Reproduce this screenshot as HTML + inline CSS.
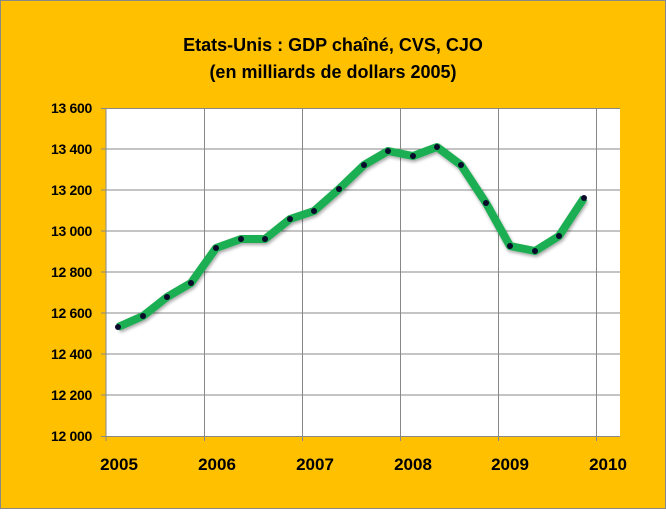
<!DOCTYPE html>
<html><head><meta charset="utf-8"><style>
body{margin:0;width:666px;height:510px;overflow:hidden;background:#fff}
</style></head><body>
<svg width="666" height="510" xmlns="http://www.w3.org/2000/svg" font-family="Liberation Sans, Arial, sans-serif">
<defs><filter id="sh" x="-10%" y="-10%" width="120%" height="130%"><feDropShadow dx="1" dy="2" stdDeviation="1.5" flood-color="#000" flood-opacity="0.35"/></filter></defs>
<rect x="0.5" y="0.5" width="665" height="508" fill="#FFC000" stroke="#888"/>
<text x="333" y="51" text-anchor="middle" font-size="18" font-weight="bold">Etats-Unis : GDP  chaîné, CVS, CJO</text>
<text x="333" y="78" text-anchor="middle" font-size="18" font-weight="bold">(en milliards de dollars 2005)</text>
<rect x="106" y="108" width="514" height="328" fill="#fff"/>
<g stroke="#888" stroke-width="1">
<line x1="101" y1="108.5" x2="620" y2="108.5"/>
<line x1="101" y1="149" x2="620" y2="149"/><line x1="101" y1="190" x2="620" y2="190"/>
<line x1="101" y1="231" x2="620" y2="231"/><line x1="101" y1="272" x2="620" y2="272"/>
<line x1="101" y1="313" x2="620" y2="313"/><line x1="101" y1="354" x2="620" y2="354"/>
<line x1="101" y1="395" x2="620" y2="395"/>
<line x1="204.5" y1="108" x2="204.5" y2="441"/><line x1="302.5" y1="108" x2="302.5" y2="441"/>
<line x1="400.5" y1="108" x2="400.5" y2="441"/><line x1="498.5" y1="108" x2="498.5" y2="441"/>
<line x1="596.5" y1="108" x2="596.5" y2="441"/>
<line x1="106" y1="108" x2="106" y2="441"/>
<line x1="101" y1="436.5" x2="620" y2="436.5"/>
</g>
<g font-size="14" font-weight="bold" text-anchor="end" letter-spacing="-0.3">
<text x="92" y="113">13 600</text><text x="92" y="154">13 400</text><text x="92" y="195">13 200</text>
<text x="92" y="236">13 000</text><text x="92" y="277">12 800</text><text x="92" y="318">12 600</text>
<text x="92" y="359">12 400</text><text x="92" y="400">12 200</text><text x="92" y="441">12 000</text>
</g>
<g font-size="17" font-weight="bold" text-anchor="middle">
<text x="119" y="470">2005</text><text x="217" y="470">2006</text><text x="315" y="470">2007</text>
<text x="413" y="470">2008</text><text x="510" y="470">2009</text><text x="608" y="470">2010</text>
</g>
<polyline filter="url(#sh)" fill="none" stroke="#1FAE52" stroke-width="8" stroke-linejoin="round" points="118,327 143,316 167,297 191,283 216,248 241,239 265,239 290,219 314,211 339,189 364,165 388,151 413,156 437,147 461,165 486,203 510,246 535,251 559,236 584,198"/>
<g fill="#0a0a2a">
<circle cx="118" cy="327" r="3"/><circle cx="143" cy="316" r="3"/><circle cx="167" cy="297" r="3"/><circle cx="191" cy="283" r="3"/><circle cx="216" cy="248" r="3"/><circle cx="241" cy="239" r="3"/><circle cx="265" cy="239" r="3"/><circle cx="290" cy="219" r="3"/><circle cx="314" cy="211" r="3"/><circle cx="339" cy="189" r="3"/><circle cx="364" cy="165" r="3"/><circle cx="388" cy="151" r="3"/><circle cx="413" cy="156" r="3"/><circle cx="437" cy="147" r="3"/><circle cx="461" cy="165" r="3"/><circle cx="486" cy="203" r="3"/><circle cx="510" cy="246" r="3"/><circle cx="535" cy="251" r="3"/><circle cx="559" cy="236" r="3"/><circle cx="584" cy="198" r="3"/>
</g>
</svg>
</body></html>
